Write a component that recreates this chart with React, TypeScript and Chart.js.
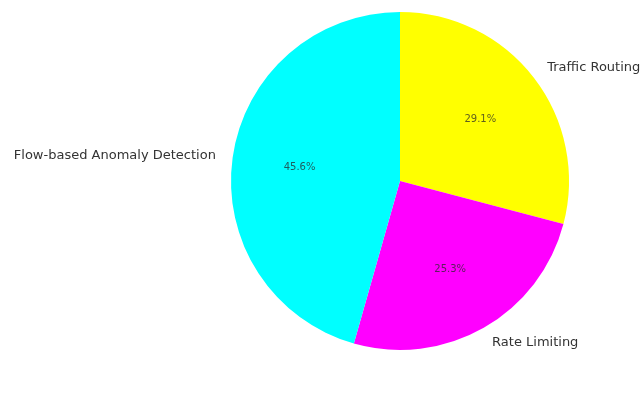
import React, { useEffect, useRef } from "react";
import { Chart, registerables } from "chart.js";

Chart.register(...registerables);

const categories = ["Traffic Routing", "Rate Limiting", "Flow-based Anomaly Detection"];
const values = [29.1, 25.3, 45.6];
const colors = ["#ffff00", "#ff00ff", "#00ffff"];

const labelPlugin = {
  id: "pieLabels",
  afterDatasetsDraw(chart: any) {
    const ctx = chart.ctx;
    const meta = chart.getDatasetMeta(0);
    const total = values.reduce((a, b) => a + b, 0);
    meta.data.forEach((arc: any, i: number) => {
      const { x, y, startAngle, endAngle, outerRadius } = arc.getProps(
        ["x", "y", "startAngle", "endAngle", "outerRadius"],
        true
      );
      const mid = (startAngle + endAngle) / 2;
      const cos = Math.cos(mid);
      const sin = Math.sin(mid);
      ctx.save();
      // outside label
      ctx.font = "13px 'DejaVu Sans'";
      ctx.fillStyle = "#333333";
      ctx.textBaseline = "middle";
      ctx.textAlign = cos >= 0 ? "left" : "right";
      ctx.fillText(categories[i], x + outerRadius * 1.1 * cos, y + outerRadius * 1.1 * sin);
      // percentage
      ctx.font = "10px 'DejaVu Sans'";
      ctx.fillStyle = "rgba(40,40,40,0.75)";
      ctx.textAlign = "center";
      const pct = ((values[i] / total) * 100).toFixed(1) + "%";
      ctx.fillText(pct, x + outerRadius * 0.6 * cos, y + outerRadius * 0.6 * sin);
      ctx.restore();
    });
  },
};

export default function App() {
  const ref = useRef<HTMLCanvasElement>(null);
  useEffect(() => {
    if (!ref.current) return;
    const chart = new Chart(ref.current, {
      type: "pie",
      data: {
        labels: categories,
        datasets: [
          {
            data: values,
            backgroundColor: colors,
            borderWidth: 0,
          },
        ],
      },
      options: {
        animation: false,
        responsive: false,
        maintainAspectRatio: false,
        layout: { padding: { top: 12, bottom: 46, left: 231, right: 71 } },
        plugins: {
          legend: { display: false },
          tooltip: { enabled: false },
        },
      },
      plugins: [labelPlugin],
    });
    return () => chart.destroy();
  }, []);
  return (
    <div style={{ position: "fixed", left: 0, top: 0, width: 640, height: 396, background: "#fff" }}>
      <canvas ref={ref} width={640} height={396} style={{ width: 640, height: 396 }} />
    </div>
  );
}
